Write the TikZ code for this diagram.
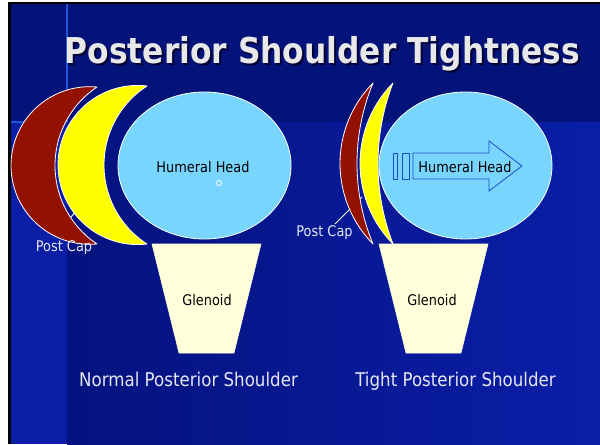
\documentclass[tikz,border=0pt]{standalone}
\usepackage{fontspec}
\setmainfont{DejaVu Sans}[FakeStretch=0.88]
\definecolor{topnavy}{HTML}{03137A}
\definecolor{lownavy}{HTML}{04137F}
\definecolor{lowblue}{HTML}{0A1EA8}
\definecolor{stripblue}{HTML}{0A1EA6}
\definecolor{lineblue}{HTML}{1A55DC}
\definecolor{capred}{HTML}{921100}
\definecolor{capyellow}{HTML}{FFFF00}
\definecolor{headcyan}{HTML}{78D5FD}
\definecolor{glencream}{HTML}{FFFFDC}
\definecolor{arrowblue}{HTML}{1E4CC8}
\definecolor{titlegray}{HTML}{E8E8E8}
\definecolor{captext}{HTML}{E6E6F2}
\newcommand{\crescentshape}[6]{%
 \pgfmathsetmacro\crH{(#2-#3)/2}%
 \pgfmathsetmacro\crDo{#1-#4}%
 \pgfmathsetmacro\crCo{(\crDo*\crDo-\crH*\crH)/(2*\crDo)}%
 \pgfmathsetmacro\crRo{\crDo-\crCo}%
 \pgfmathsetmacro\crAo{atan2(\crH,\crCo)}%
 \pgfmathsetmacro\crBo{360-\crAo}%
 \pgfmathsetmacro\crDi{#1-#5}%
 \pgfmathsetmacro\crCi{(\crDi*\crDi-\crH*\crH)/(2*\crDi)}%
 \pgfmathsetmacro\crRi{\crDi-\crCi}%
 \pgfmathsetmacro\crAi{atan2(\crH,\crCi)}%
 \pgfmathsetmacro\crBi{360-\crAi}%
 \path[#6] (#1,#2) arc[start angle=\crAo, end angle=\crBo, radius=\crRo]
   arc[start angle=\crBi, end angle=\crAi, radius=\crRi] -- cycle;
}
\tikzset{
  crescentstyle/.style={draw=white, line width=0.6pt, line join=round},
  headshape/.style={draw=white, line width=0.6pt, fill=headcyan},
  glen/.style={fill=glencream, draw=glencream, line width=0.4pt},
  darklabel/.style={text=black, font=\fontsize{11}{13}\selectfont, inner sep=0pt},
  lightlabel/.style={text=captext, font=\fontsize{11}{13}\selectfont, inner sep=0pt},
  caption/.style={text=captext, font=\fontsize{14.2}{17}\selectfont, inner sep=0pt, anchor=base},
  callout/.style={draw=white, line width=0.7pt},
}
\begin{document}
\begin{tikzpicture}[x=0.75pt,y=0.75pt]
\useasboundingbox (0,0) rectangle (600,444);
% background
\fill[white] (0,0) rectangle (600,444);
\fill[black] (8,0) rectangle (600,442);
\fill[topnavy] (11,322) rectangle (600,440);
\shade[left color=lownavy, right color=lowblue] (67,0) rectangle (600,322);
\fill[stripblue] (11,0) rectangle (67,322);
\draw[lineblue, line width=1pt] (67,322) -- (67,440);
\draw[lineblue, line width=1pt] (11,322) -- (67,322);
% title
\node[anchor=base, text=black!80!blue, font=\fontsize{26.7}{32}\selectfont\bfseries, inner sep=0pt] (titleshadow) at (324.5,378.5) {Posterior Shoulder Tightness};
\node[anchor=base, text=titlegray, font=\fontsize{26.7}{32}\selectfont\bfseries, inner sep=0pt] (title) at (322.5,381) {Posterior Shoulder Tightness};
% ===== left (normal) =====
\coordinate (pcLa) at (64,219);
\coordinate (pcLb) at (78,235);
\draw[callout] (pcLa) -- (pcLb);
\crescentshape{97}{357}{200}{11}{55}{crescentstyle, fill=capred}
\crescentshape{147}{358}{200}{58}{104}{crescentstyle, fill=capyellow}
\draw[headshape] (204.5,278.5) ellipse[x radius=86.5, y radius=73.5];
\node[darklabel] (hhL) at (203,277) {Humeral Head};
\draw[white, line width=0.6pt] (219,261) circle[radius=2.6];
\node[lightlabel] (pcL) at (64,196) {Post Cap};
\fill[glen] (152,200) -- (261,200) -- (234,91) -- (179,91) -- cycle;
\node[darklabel] (glL) at (207,144) {Glenoid};
\node[caption] (capL) at (188.5,58) {Normal Posterior Shoulder};
% ===== right (tight) =====
\coordinate (pcRa) at (335,220);
\coordinate (pcRb) at (362,247);
\draw[callout] (pcRa) -- (pcRb);
\crescentshape{373}{361}{200}{340}{357}{crescentstyle, fill=capred}
\crescentshape{393}{361}{200}{360}{378}{crescentstyle, fill=capyellow}
\draw[headshape] (465.5,278.5) ellipse[x radius=86.5, y radius=73.5];
\draw[draw=arrowblue, fill=headcyan, line width=0.6pt] (393,265) rectangle (397,291);
\draw[draw=arrowblue, fill=headcyan, line width=0.6pt] (402,265) rectangle (409,291);
\draw[draw=arrowblue, fill=headcyan, line width=0.6pt, line join=miter]
  (413,265) -- (413,291) -- (489,291) -- (489,303) -- (522,278) -- (489,253) -- (489,265) -- cycle;
\node[darklabel] (hhR) at (465,277) {Humeral Head};
\node[lightlabel] (pcR) at (324.5,211) {Post Cap};
\fill[glen] (379,200) -- (488,200) -- (461,91) -- (406,91) -- cycle;
\node[darklabel] (glR) at (432,144) {Glenoid};
\node[caption] (capR) at (455.5,58) {Tight Posterior Shoulder};
\end{tikzpicture}
\end{document}
